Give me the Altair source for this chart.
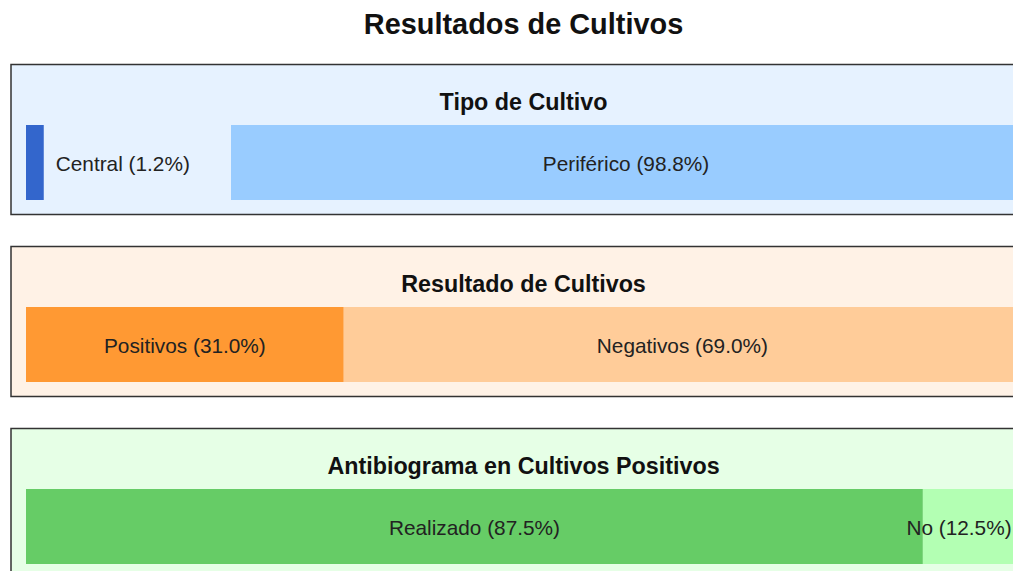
import altair as alt
import pandas as pd

# ---- data ----
MAIN_TITLE = "Resultados de Cultivos"
PANEL_TITLES = ["Tipo de Cultivo", "Resultado de Cultivos", "Antibiograma en Cultivos Positivos"]

tipo_labels = ["Central", "Periférico"]
tipo_pct = [1.2, 98.8]

resultado_labels = ["Positivos", "Negativos"]
resultado_pct = [31.0, 69.0]

antibio_labels = ["Realizado", "No"]
antibio_pct = [87.5, 12.5]

# ---- styles ----
PANEL_BG = ["#e6f2ff", "#fff2e6", "#e6ffe6"]
SEG_COLORS = [["#3366cc", "#99ccff"], ["#ff9933", "#ffcc99"], ["#66cc66", "#b3ffb3"]]
FONT = "Liberation Sans"
LABEL_SIZE = 20.8

# ---- layout constants ----
PANEL_W = 1025          # panel width in px (100 % of the bar)
PANEL_H = 150
PAD = 15                # inner padding of the panel
PX = PANEL_W / 100      # px per percent unit
LIMIT = (PANEL_W - 2 * PAD) / PANEL_W * 100   # the bar is clipped at the inner right edge
VISIBLE = (1000 - PAD) / PX                   # right edge of the window, in percent units
MIN_SEG = 1.73          # minimum segment width (percent units)
OUTSIDE_THRESHOLD = 5   # segments narrower than this get their label outside
OUTSIDE_SPACE = 20.0    # room kept for an outside label


def segments(labels, pcts):
    rows = []
    x = 0.0
    for lab, p in zip(labels, pcts):
        start = x
        end = start + max(p, MIN_SEG)
        vis_end = min(end, LIMIT)
        outside = p < OUTSIDE_THRESHOLD
        text = f"{lab} ({p:.1f}%)"
        lx = vis_end if outside else (start + vis_end) / 2
        if not outside:
            half = len(text) * 0.5 * LABEL_SIZE / 2 / PX   # rough half text width
            lx = min(lx, VISIBLE - half)
        rows.append({
            "cat": lab,
            "pct": p,
            "x0": start,
            "x1": vis_end,
            "lx": lx,
            "outside": outside,
            "text": text,
            "row": "bar",
        })
        x = start + OUTSIDE_SPACE if outside else end
    return pd.DataFrame(rows)


def panel(title, labels, pcts, bg, colors):
    df = segments(labels, pcts)
    xs = alt.Scale(domain=[0, 100], range=[PAD, PAD + PANEL_W])
    ys = alt.Scale(domain=["bar"], range=[60.5, 135.5], paddingInner=0, paddingOuter=0)
    base = alt.Chart(df)
    bars = base.mark_bar(clip=False).encode(
        x=alt.X("x0:Q", scale=xs, axis=None),
        x2="x1:Q",
        y=alt.Y("row:N", scale=ys, axis=None),
        color=alt.Color("cat:N", scale=alt.Scale(domain=labels, range=colors), legend=None),
    )
    inside = base.transform_filter("!datum.outside").mark_text(
        align="center", baseline="middle", dy=2, font=FONT, fontSize=LABEL_SIZE, color="#222"
    ).encode(
        x=alt.X("lx:Q", scale=xs, axis=None),
        y=alt.Y("row:N", scale=ys, axis=None),
        text="text:N",
    )
    outside = base.transform_filter("datum.outside").mark_text(
        align="left", baseline="middle", dx=12, dy=2, font=FONT, fontSize=LABEL_SIZE, color="#222"
    ).encode(
        x=alt.X("lx:Q", scale=xs, axis=None),
        y=alt.Y("row:N", scale=ys, axis=None),
        text="text:N",
    )
    return alt.layer(bars, inside, outside).properties(
        width=PANEL_W,
        height=PANEL_H,
        title=alt.TitleParams(
            title, anchor="middle", font=FONT, fontSize=23.3, fontWeight="bold",
            color="#111", baseline="alphabetic", offset=-69,
        ),
        view=alt.ViewBackground(fill=bg, stroke="#333", strokeWidth=1.5),
    )


panels = [
    panel(PANEL_TITLES[0], tipo_labels, tipo_pct, PANEL_BG[0], SEG_COLORS[0]),
    panel(PANEL_TITLES[1], resultado_labels, resultado_pct, PANEL_BG[1], SEG_COLORS[1]),
    panel(PANEL_TITLES[2], antibio_labels, antibio_pct, PANEL_BG[2], SEG_COLORS[2]),
]

# the page is narrower than the panels: a negative right padding crops them at the window edge
chart = alt.vconcat(*panels, spacing=30).resolve_scale(
    color="independent", x="independent", y="independent"
).properties(
    title=alt.TitleParams(
        MAIN_TITLE, anchor="middle", font=FONT, fontSize=28.9, fontWeight="bold",
        color="#111", offset=24,
    ),
    padding={"left": 2, "top": 2.5, "right": -24, "bottom": 5},
).configure_view(stroke=None)

chart.save("out.html", embed_options={"renderer": "svg", "actions": False})
